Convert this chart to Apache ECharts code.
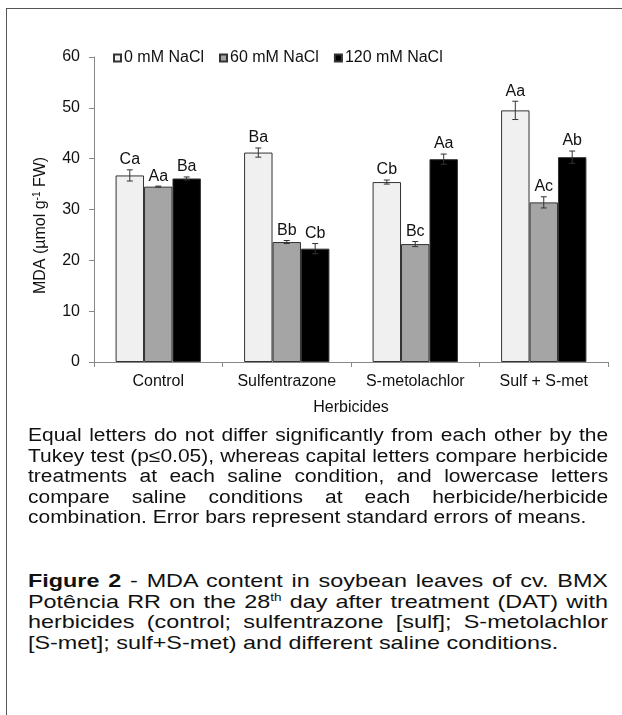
<!DOCTYPE html>
<html>
<head>
<meta charset="utf-8">
<script src="https://cdn.jsdelivr.net/npm/echarts@6/dist/echarts.min.js"></script>
<style>
  html, body { margin: 0; padding: 0; background: #fff; }
  #wrap { position: relative; width: 622px; height: 715px; overflow: hidden; }
  #frame { position: absolute; left: 6px; top: 8px; right: -2px; bottom: -2px;
           border-top: 1.5px solid #555; border-left: 1.5px solid #555; }
  #chart { position: absolute; left: 0; top: 0; width: 622px; height: 430px; }
  .para { position: absolute; left: 28px; font-family: "Liberation Sans", Arial, sans-serif;
          color: #111; line-height: 20.5px; transform-origin: 0 0; }
  #p1 { top: 425px; font-size: 18px; width: 498px; transform: scaleX(1.165); }
  #p2 { top: 571px; font-size: 19px; width: 471.5px; transform: scaleX(1.23); }
  .para .l { text-align: justify; text-align-last: justify; white-space: nowrap; }
  .para .last { text-align: left; white-space: nowrap; }
  sup { font-size: 11px; line-height: 0; vertical-align: 7px; }
</style>
</head>
<body>
<div id="wrap">
  <div id="frame"></div>
  <div id="chart"></div>
  <div class="para" id="p1">
    <div class="l">Equal letters do not differ significantly from each other by the</div>
    <div class="l">Tukey test (p≤0.05), whereas capital letters compare herbicide</div>
    <div class="l">treatments at each saline condition, and lowercase letters</div>
    <div class="l">compare saline conditions at each herbicide/herbicide</div>
    <div class="last">combination. Error bars represent standard errors of means.</div>
  </div>
  <div class="para" id="p2">
    <div class="l"><b>Figure 2</b> - MDA content in soybean leaves of cv. BMX</div>
    <div class="l">Potência RR on the 28<sup>th</sup> day after treatment (DAT) with</div>
    <div class="l">herbicides (control; sulfentrazone [sulf]; S-metolachlor</div>
    <div class="last">[S-met]; sulf+S-met) and different saline conditions.</div>
  </div>
</div>
<script>
// ---- data ----
const categories = ['Control', 'Sulfentrazone', 'S-metolachlor', 'Sulf + S-met'];
const seriesNames = ['0 mM NaCl', '60 mM NaCl', '120 mM NaCl'];
const values0 = [36.7, 41.2, 35.4, 49.5];
const values60 = [34.5, 23.6, 23.2, 31.4];
const values120 = [36.1, 22.3, 39.9, 40.3];
const errors0 = [1.1, 0.9, 0.4, 1.8];
const errors60 = [0.1, 0.3, 0.5, 1.1];
const errors120 = [0.3, 1.0, 1.0, 1.2];
const letters0 = ['Ca', 'Ba', 'Cb', 'Aa'];
const letters60 = ['Aa', 'Bb', 'Bc', 'Ac'];
const letters120 = ['Ba', 'Cb', 'Aa', 'Ab'];
const yTicks = [0, 10, 20, 30, 40, 50, 60];

const FONT = '"Liberation Sans", Arial, sans-serif';
const colors = ['#f0f0f0', '#a5a5a5', '#000000'];
const CAT_GAP = 0.336;

const allValues = [values0, values60, values120];
const allErrors = [errors0, errors60, errors120];
const allLetters = [letters0, letters60, letters120];

const barSeries = seriesNames.map((name, i) => ({
  name: name,
  type: 'bar',
  data: allValues[i],
  barGap: '0%',
  barCategoryGap: (CAT_GAP * 100) + '%',
  itemStyle: { color: colors[i], borderColor: '#333', borderWidth: 1 },
  emphasis: { disabled: true },
  z: 2
}));

const errSeries = seriesNames.map((name, i) => ({
  type: 'custom',
  name: 'err' + i,
  z: 5,
  silent: true,
  data: categories.map((c, k) => [k, allValues[i][k], allErrors[i][k]]),
  renderItem: function (params, api) {
    const k = api.value(0), v = api.value(1), e = api.value(2);
    const letter = allLetters[i][k];
    const bw = api.size([1, 0])[0] * (1 - CAT_GAP) / 3;
    const c = api.coord([k, v]);
    const x = c[0] + (i - 1) * bw;
    const yt = api.coord([k, v + e])[1];
    const yb = api.coord([k, v - e])[1];
    const cap = 3;
    const ls = { stroke: '#333', lineWidth: 1 };
    return {
      type: 'group',
      children: [
        { type: 'line', shape: { x1: x, y1: yt, x2: x, y2: yb }, style: ls },
        { type: 'line', shape: { x1: x - cap, y1: yt, x2: x + cap, y2: yt }, style: ls },
        { type: 'line', shape: { x1: x - cap, y1: yb, x2: x + cap, y2: yb }, style: ls },
        { type: 'text', style: { text: letter, x: x, y: yt - 2, align: 'center',
            verticalAlign: 'bottom', fill: '#111', font: '16px ' + FONT } }
      ]
    };
  }
}));

const chart = echarts.init(document.getElementById('chart'), null, { renderer: 'canvas' });
chart.setOption({
  animation: false,
  backgroundColor: 'transparent',
  textStyle: { fontFamily: FONT },
  grid: { left: 94, right: 14, top: 57, height: 305 },
  legend: {
    data: seriesNames,
    left: 108, top: 45,
    icon: 'rect', itemWidth: 7, itemHeight: 7, itemGap: 15,
    textStyle: { fontSize: 16, color: '#111', fontFamily: FONT, padding: [0, 0, 0, -2] },
    selectedMode: false
  },
  xAxis: {
    type: 'category',
    data: categories,
    name: 'Herbicides',
    nameLocation: 'middle',
    nameGap: 38,
    nameTextStyle: { fontSize: 16, color: '#111', fontFamily: FONT },
    axisLine: { lineStyle: { color: '#888', width: 1 } },
    axisTick: { show: true, inside: false, length: 5, alignWithLabel: false, lineStyle: { color: '#888' } },
    axisLabel: { fontSize: 16, color: '#111', margin: 12, fontFamily: FONT, interval: 0 }
  },
  yAxis: {
    type: 'value',
    min: yTicks[0], max: yTicks[yTicks.length - 1], interval: 10,
    name: 'MDA (µmol g{sup|-1} FW)',
    nameLocation: 'middle',
    nameGap: 44,
    nameRotate: 90,
    nameTextStyle: { fontSize: 16, color: '#111', fontFamily: FONT, padding: [0, 32, 0, 0],
      rich: { sup: { fontSize: 10, verticalAlign: 'bottom', padding: [0, 0, 8, 0], color: '#111' } } },
    splitLine: { show: false },
    axisLine: { show: true, lineStyle: { color: '#888', width: 1 } },
    axisTick: { show: true, inside: false, length: 5, lineStyle: { color: '#888' } },
    axisLabel: { fontSize: 16, color: '#111', margin: 14, fontFamily: FONT }
  },
  series: barSeries.concat(errSeries)
});
</script>
</body>
</html>
